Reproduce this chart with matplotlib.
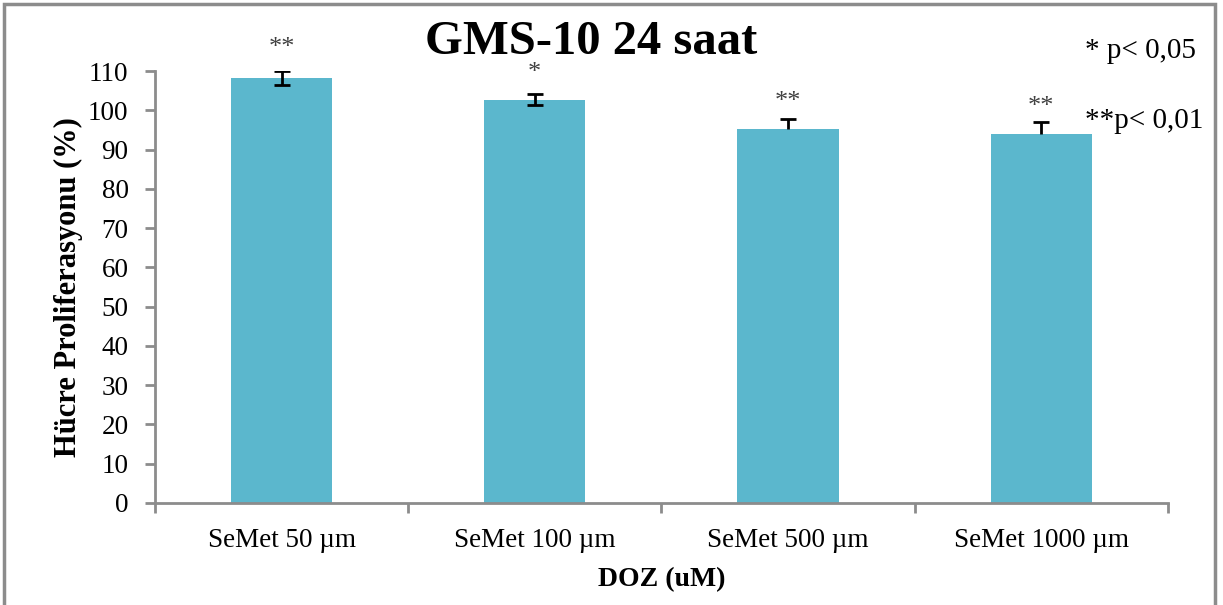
import matplotlib.pyplot as plt
import matplotlib.patches as patches
import numpy as np

categories = ["SeMet 50 µm", "SeMet 100 µm", "SeMet 500 µm", "SeMet 1000 µm"]
values = [108.2, 102.7, 95.2, 93.9]
err_lower = [1.7, 1.4, 0.0, 0.0]
err_upper = [1.7, 1.4, 2.5, 3.1]
stars = ["**", "*", "**", "**"]
star_heights = [115.8, 109.6, 102.2, 100.8]
yticks = list(range(0, 111, 10))

plt.rcParams['font.family'] = ['Liberation Serif', 'DejaVu Serif']

fig = plt.figure(figsize=(12.23, 6.05), dpi=100)
ax = fig.add_axes([0.1267, 0.1686, 0.955 - 0.1267, 0.8826 - 0.1686])

x = np.arange(len(categories))
bar_color = '#5BB7CD'
ax.bar(x, values, width=0.4, color=bar_color, zorder=2)

# symmetric error bars (first two)
ax.errorbar(x[:2], values[:2], yerr=[err_lower[:2], err_upper[:2]], fmt='none',
            ecolor='black', elinewidth=2, capsize=6, capthick=2, zorder=3)
# plus-only error bars (last two)
_, caps, _ = ax.errorbar(x[2:], values[2:], yerr=[err_lower[2:], err_upper[2:]], fmt='none',
                         ecolor='black', elinewidth=2, capsize=6, capthick=2, zorder=3)
caps[0].set_visible(False)

for xi, s, h in zip(x, stars, star_heights):
    ax.text(xi, h, s, ha='center', va='center', fontsize=19, color='#404040')

ax.set_xlim(-0.5, 3.5)
ax.set_ylim(0, 110)
ax.set_yticks(yticks)
ax.set_yticklabels([str(t) for t in yticks], fontsize=19.5)
ax.set_xticks(x)
ax.set_xticklabels(categories, fontsize=19.5)
ax.tick_params(axis='x', length=0, pad=18)
ax.set_xticks(np.arange(-0.5, 4.0, 1.0), minor=True)
ax.tick_params(axis='x', which='minor', length=7, width=2, color='#8c8c8c', direction='out')
ax.tick_params(axis='y', length=7, width=2, color='#8c8c8c', direction='out', pad=12)

for sp in ['top', 'right']:
    ax.spines[sp].set_visible(False)
for sp in ['left', 'bottom']:
    ax.spines[sp].set_color('#8c8c8c')
    ax.spines[sp].set_linewidth(2)

ax.set_ylabel("Hücre Proliferasyonu (%)", fontsize=22, fontweight='bold', labelpad=4)
ax.set_xlabel("DOZ (uM)", fontsize=20, fontweight='bold', labelpad=10)

fig.text(0.483, 0.931, "GMS-10 24 saat", ha='center', va='center', fontsize=35, fontweight='bold')
fig.text(0.887, 0.915, "* p< 0,05", ha='left', va='center', fontsize=21)
fig.text(0.887, 0.800, "**p< 0,01", ha='left', va='center', fontsize=21)

border = patches.Rectangle((4 / 1223, -0.05), (1215 - 4) / 1223, 1.05 - 4 / 605,
                           transform=fig.transFigure, fill=False, edgecolor='#8c8c8c',
                           linewidth=2.5, clip_on=False)
fig.patches.append(border)

fig.savefig("out.png", dpi=100)
